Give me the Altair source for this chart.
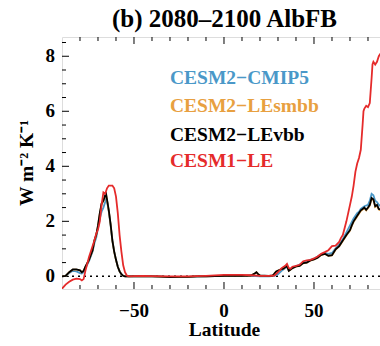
import altair as alt
import pandas as pd

# ---- data ----
black_lat = [-90, -88, -86, -84, -82, -80, -79, -78, -77, -75, -73, -72, -71, -70, -69, -68, -67, -66, -65.5, -65, -64, -63, -62, -61, -60, -59, -58, -57, -56, -55,
             -50, -45, -40, -35, -30, -25, -20, -15, -10, -5, 0, 5, 10, 15, 17, 18, 19, 20, 25, 27, 28, 29, 31, 33, 35, 36, 37, 38, 40, 42, 44, 46, 48, 50,
             52, 54, 56, 58, 60, 62, 64, 66, 68, 70, 71, 72, 73, 74, 75, 76, 77, 78, 79, 80, 81, 82, 83, 84, 85, 86, 88, 90]
black_val = [0.0, 0.02, 0.15, 0.25, 0.25, 0.22, 0.15, 0.2, 0.35, 0.6, 0.95, 1.3, 1.5, 1.85, 2.3, 2.65, 2.75, 2.95, 3.0, 2.8, 2.4, 1.9, 1.3, 0.9, 0.6, 0.35, 0.18, 0.08, 0.02, 0.0,
             0.0, 0.0, 0.0, -0.01, -0.03, -0.02, -0.02, 0.0, 0.0, 0.01, 0.02, 0.02, 0.02, 0.03, 0.1, 0.15, 0.08, 0.03, 0.02, 0.03, 0.1, 0.18, 0.24, 0.28, 0.38, 0.2, 0.25, 0.3, 0.36, 0.38, 0.48, 0.5, 0.58, 0.62,
             0.68, 0.78, 0.82, 0.75, 0.77, 0.98, 1.1, 1.3, 1.5, 1.68, 1.85, 2.0, 2.1, 2.2, 2.3, 2.4, 2.45, 2.5, 2.42, 2.5, 2.6, 2.85, 2.8, 2.55, 2.6, 2.45, 2.4, 2.3]

blue_lat = [-90, -88, -86, -84, -82, -80, -79, -78, -77, -75, -73, -72, -71, -70, -69, -68, -67, -66, -65.5, -65, -64, -63, -62, -61, -60, -59, -58, -57, -56, -55,
            -50, -40, -30, -20, -10, 0, 10, 15, 20, 25, 28, 30, 32, 35, 36, 38, 40, 44, 48, 50, 54, 56, 58, 60, 62, 64, 66, 68, 70, 72, 74, 75, 76, 78, 80, 81, 82, 83, 84, 85, 86, 88, 90]
blue_val = [0.0, 0.02, 0.12, 0.2, 0.18, 0.12, 0.1, 0.15, 0.3, 0.55, 0.9, 1.2, 1.4, 1.75, 2.1, 2.35, 2.5, 2.7, 2.85, 2.75, 2.35, 1.85, 1.3, 0.9, 0.6, 0.35, 0.18, 0.08, 0.02, 0.0,
            0.0, 0.0, -0.02, -0.02, 0.0, 0.02, 0.02, 0.02, 0.0, 0.0, 0.02, 0.08, 0.2, 0.35, 0.22, 0.3, 0.36, 0.5, 0.6, 0.64, 0.8, 0.85, 0.82, 0.85, 1.02, 1.15, 1.35, 1.6, 1.85, 2.1, 2.3, 2.35, 2.45, 2.55, 2.6, 2.75, 3.0, 2.95, 2.75, 2.7, 2.6, 2.5, 2.4]

orange_lat = black_lat
orange_val = [v * 0.99 for v in black_val]

red_lat = [-90, -88, -86, -84, -82, -80, -79, -78, -77, -76, -75, -74, -73, -72, -71, -70, -69, -68, -67, -66, -65, -64, -63, -62, -61, -60, -59, -58, -57, -56, -55, -54, -53,
           -50, -45, -40, -30, -20, -10, 0, 10, 15, 20, 25, 28, 30, 32, 34, 35, 36, 37, 38, 40, 42, 44, 46, 48, 50, 52, 54, 56, 58, 60, 62, 64, 65, 66, 67, 68, 69, 70,
           71, 72, 73, 74, 75, 76, 77, 77.5, 78, 79, 80, 81, 82, 82.5, 83, 84, 85, 86, 87, 88, 90]
red_val = [-0.45, -0.3, -0.2, -0.12, -0.08, -0.1, -0.15, -0.1, 0.2, 0.45, 0.7, 0.9, 1.1, 1.3, 1.55, 1.7, 2.0, 2.6, 3.05, 3.0, 3.2, 3.3, 3.3, 3.3, 3.2, 2.9, 2.3, 1.5, 0.9, 0.4, 0.15, 0.03, 0.0,
           0.01, 0.02, 0.01, 0.0, 0.0, 0.02, 0.05, 0.05, 0.04, 0.02, 0.02, 0.03, 0.15, 0.3, 0.38, 0.45, 0.3, 0.28, 0.35, 0.38, 0.42, 0.55, 0.58, 0.6, 0.65, 0.72, 0.82, 0.88, 0.95, 1.1, 1.12, 1.25, 1.4, 1.5, 1.75, 2.0, 2.3, 2.6,
           2.9, 3.3, 3.8, 4.1, 4.3, 4.6, 5.5, 6.0, 6.1, 6.2, 6.15, 6.3, 7.2, 7.7, 7.8, 7.7, 7.8, 8.0, 8.1, 8.0, 7.9]

series_names = ["CESM2\u2212CMIP5", "CESM2\u2212LEsmbb", "CESM2\u2212LEvbb", "CESM1\u2212LE"]
series_colors = ["#4a98c8", "#e8a040", "#000000", "#e52b2b"]
legend_y = [7.21, 6.18, 5.15, 4.18]
legend_lat = [-30, -30, -30, -30]

x_major = [-50, 0, 50]
x_labels = ["\u221250", "0", "50"]
x_minor = [-80, -70, -60, -40, -30, -20, -10, 10, 20, 30, 40, 60, 70, 80]
y_major = [0, 2, 4, 6, 8]
y_labels = ["0", "2", "4", "6", "8"]
y_minor = [0.5, 1, 1.5, 2.5, 3, 3.5, 4.5, 5, 5.5, 6.5, 7, 7.5, 8.5]

title_text = "(b) 2080\u20132100 AlbFB"
x_title = "Latitude"
y_title = "W m\u207b\u00b2 K\u207b\u00b9"

FONT = "Liberation Serif"
W, H = 318, 252
XDOM = [-90, 86.67]
YDOM = [-0.46, 8.70]

xs = alt.Scale(domain=XDOM, nice=False, zero=False)
ys = alt.Scale(domain=YDOM, nice=False, zero=False)


def X(f):
    return alt.X(f, scale=xs, axis=None)


def Y(f):
    return alt.Y(f, scale=ys, axis=None)


def line(lat, val, color, width=1.8):
    df = pd.DataFrame({"lat": lat, "val": val})
    return alt.Chart(df).mark_line(color=color, strokeWidth=width, clip=True).encode(
        x=X("lat:Q"), y=Y("val:Q"), order=alt.Order("lat:Q"))


zero_df = pd.DataFrame({"v": [0]})
zero_rule = alt.Chart(zero_df).mark_rule(color="black", strokeDash=[2, 4], strokeWidth=1.5).encode(y=Y("v:Q"))


def xticks(vals, length):
    df = pd.DataFrame({"t": vals})
    b = alt.Chart(df).mark_rule(color="black", strokeWidth=1).encode(
        x=X("t:Q"), y=alt.value(H), y2=alt.value(H - length))
    t = alt.Chart(df).mark_rule(color="black", strokeWidth=1).encode(
        x=X("t:Q"), y=alt.value(0), y2=alt.value(length))
    return [b, t]


def yticks(vals, length):
    df = pd.DataFrame({"t": vals})
    return [alt.Chart(df).mark_rule(color="black", strokeWidth=1).encode(
        y=Y("t:Q"), x=alt.value(0), x2=alt.value(length))]


txt = dict(font=FONT, fontWeight="bold", color="black")

xlab = alt.Chart(pd.DataFrame({"t": x_major, "s": x_labels})).mark_text(
    align="center", baseline="middle", fontSize=19, **txt).encode(
    x=X("t:Q"), y=alt.value(H + 22), text="s:N")
ylab = alt.Chart(pd.DataFrame({"t": y_major, "s": y_labels})).mark_text(
    align="right", baseline="middle", fontSize=19, **txt).encode(
    y=Y("t:Q"), x=alt.value(-7), text="s:N")

xtit = alt.Chart(pd.DataFrame({"s": [x_title]})).mark_text(
    align="center", baseline="alphabetic", fontSize=19.5, **txt).encode(
    x=alt.value(162.5), y=alt.value(H + 47), text="s:N")
ytit = alt.Chart(pd.DataFrame({"s": [y_title]})).mark_text(
    align="center", baseline="alphabetic", fontSize=19.5, angle=270, **txt).encode(
    x=alt.value(-29), y=alt.value(H / 2), text="s:N")
mtit = alt.Chart(pd.DataFrame({"s": [title_text]})).mark_text(
    align="center", baseline="alphabetic", fontSize=25, **txt).encode(
    x=alt.value(162.5), y=alt.value(-10), text="s:N")

leg_df = pd.DataFrame({"name": series_names, "lat": legend_lat, "y": legend_y})
legend = alt.Chart(leg_df).mark_text(align="left", baseline="middle", font=FONT, fontWeight="bold", fontSize=19.5).encode(
    x=X("lat:Q"), y=Y("y:Q"), text="name:N",
    color=alt.Color("name:N", scale=alt.Scale(domain=series_names, range=series_colors), legend=None))

layers = [zero_rule]
layers += xticks(x_major, 7) + xticks(x_minor, 4) + yticks(y_major, 7) + yticks(y_minor, 4)
layers += [
    line(blue_lat, blue_val, series_colors[0]),
    line(orange_lat, orange_val, series_colors[1]),
    line(black_lat, black_val, series_colors[2]),
    line(red_lat, red_val, series_colors[3]),
    legend, xlab, ylab, xtit, ytit, mtit,
]

chart = alt.layer(*layers).properties(
    width=W, height=H,
    autosize=alt.AutoSizeParams(type="none"),
    padding={"left": 62, "top": 37, "right": 0, "bottom": 57},
).configure_view(stroke="black", strokeWidth=1).configure(background="white")

chart.save("out.html", embed_options={"renderer": "svg", "actions": False})
